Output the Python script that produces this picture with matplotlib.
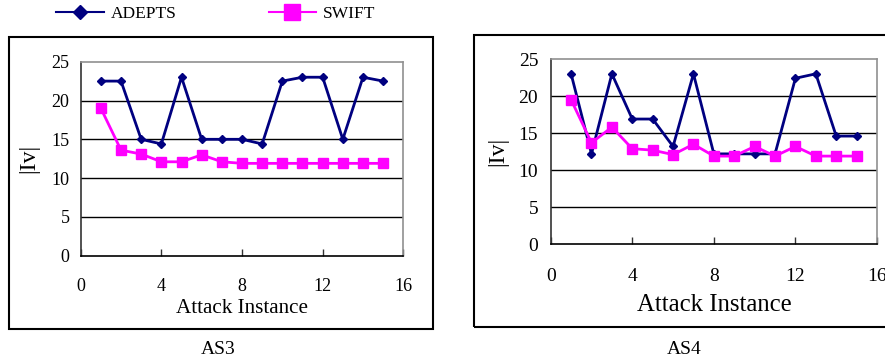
import matplotlib
matplotlib.use("Agg")
import matplotlib.pyplot as plt
from matplotlib.lines import Line2D
from matplotlib.patches import Rectangle

plt.rcParams['font.family'] = ['Liberation Serif', 'DejaVu Serif']

attack = list(range(1, 16))
adepts_as3 = [22.5, 22.5, 15.0, 14.4, 23.0, 15.0, 15.0, 15.0, 14.4, 22.5, 23.0, 23.0, 15.0, 23.0, 22.5]
swift_as3 = [19.0, 13.6, 13.1, 12.1, 12.1, 13.0, 12.1, 11.9, 11.9, 11.9, 11.9, 11.9, 11.9, 11.9, 11.9]
adepts_as4 = [23.0, 12.2, 23.0, 16.9, 16.9, 13.2, 23.0, 12.2, 12.2, 12.2, 12.2, 22.4, 23.0, 14.6, 14.6]
swift_as4 = [19.5, 13.7, 15.8, 12.9, 12.7, 12.1, 13.5, 11.9, 11.9, 13.2, 11.9, 13.2, 11.9, 11.9, 11.9]
xticks = [0, 4, 8, 12, 16]
yticks = [0, 5, 10, 15, 20, 25]
series_names = ["ADEPTS", "SWIFT"]
panel_titles = ["AS3", "AS4"]
xlabel = "Attack Instance"
ylabel = "|Iv|"

NAVY = '#000080'
MAG = '#FF00FF'

W, H = 885, 364
fig = plt.figure(figsize=(W / 100, H / 100), dpi=100)

def fx(px):
    return px / W

def fy(py):
    return 1 - py / H

# outer frames
fig.patches.append(Rectangle((fx(9.3), fy(329.3)), fx(432.7 - 9.3), (329.3 - 37.3) / H,
                             transform=fig.transFigure, fill=False, edgecolor='black', lw=1.5))
fig.patches.append(Rectangle((fx(474.3), fy(326.7)), fx(900 - 474.3), (326.7 - 34.7) / H,
                             transform=fig.transFigure, fill=False, edgecolor='black', lw=1.5))

panels = [
    dict(rect=[fx(80.7), fy(255.7), fx(403.3 - 80.7), (255.7 - 61.7) / H],
         a=adepts_as3, s=swift_as3, tick_fs=13, xl_fs=15.2, yl_fs=17, xpad=16, ypad=8,
         xl_y=-0.225, yl_x=-0.13, title_xy=(218, 350), title=panel_titles[0]),
    dict(rect=[fx(550.7), fy(244.3), fx(877 - 550.7), (244.3 - 59) / H],
         a=adepts_as4, s=swift_as4, tick_fs=14, xl_fs=17.8, yl_fs=17, xpad=17, ypad=9,
         xl_y=-0.27, yl_x=-0.13, title_xy=(684, 350), title=panel_titles[1]),
]

for p in panels:
    ax = fig.add_axes(p['rect'])
    ax.plot(attack, p['a'], color=NAVY, lw=2, marker='D', ms=4.5, zorder=3)
    ax.plot(attack, p['s'], color=MAG, lw=2, marker='s', ms=6.5, zorder=4)
    ax.set_xlim(0, 16)
    ax.set_ylim(0, 25)
    ax.set_xticks(xticks)
    ax.set_yticks(yticks)
    ax.tick_params(axis='x', direction='in', length=5, width=1, color='#333333',
                   pad=p['xpad'], labelsize=p['tick_fs'])
    ax.tick_params(axis='y', length=0, pad=p['ypad'], labelsize=p['tick_fs'])
    for y in yticks[1:-1]:
        ax.axhline(y, color='black', lw=1, zorder=1)
    ax.spines['top'].set_color('#909090')
    ax.spines['right'].set_color('#909090')
    ax.spines['left'].set_color('#333333')
    ax.spines['bottom'].set_color('black')
    for sp in ax.spines.values():
        sp.set_linewidth(1.2)
    ax.set_xlabel(xlabel, fontsize=p['xl_fs'])
    ax.set_ylabel(ylabel, fontsize=p['yl_fs'])
    ax.xaxis.set_label_coords(0.5, p['xl_y'])
    ax.yaxis.set_label_coords(p['yl_x'], 0.5)
    fig.text(fx(p['title_xy'][0]), fy(p['title_xy'][1]), p['title'], fontsize=14,
             ha='center', va='center')

handles = [
    Line2D([], [], color=NAVY, lw=1.5, marker='D', ms=7),
    Line2D([], [], color=MAG, lw=1.5, marker='s', ms=11),
]
fig.legend(handles, series_names, loc='center left', bbox_to_anchor=(fx(56), fy(14)),
           ncol=2, frameon=False, fontsize=12.5, handlelength=2.75, handletextpad=0.4,
           columnspacing=5.3, borderpad=0, borderaxespad=0)

fig.savefig('out.png', dpi=100)
